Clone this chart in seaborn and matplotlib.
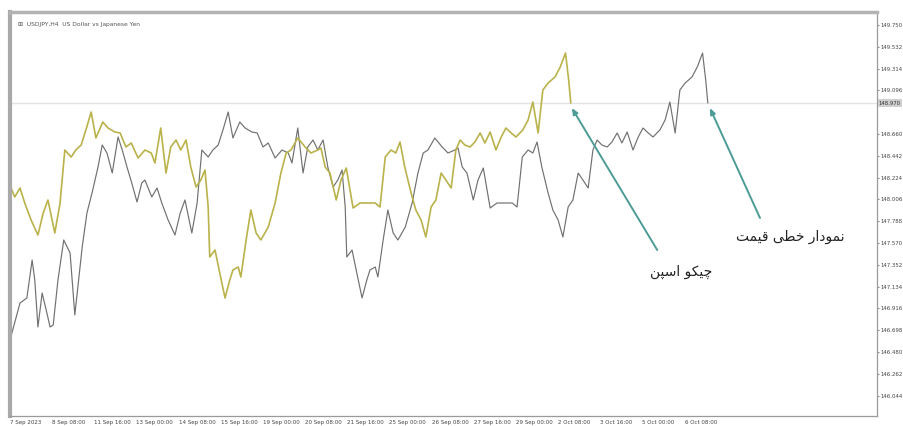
import matplotlib
matplotlib.use("Agg")
import matplotlib.pyplot as plt
import seaborn as sns
import pandas as pd

# ---------------------------
# DATA
# ---------------------------
# position of each vertex in H4 bars from the left edge, and the close there
bars = [0.0, 1.9, 3.2, 4.2, 4.7, 5.3, 6.1, 7.0, 7.6, 8.2, 9.1, 10.2, 11.4, 12.3,
        13.7, 14.6, 15.7, 16.7, 17.5, 18.4, 19.4, 20.5, 21.3, 22.2, 23.1, 24.1,
        25.0, 25.6, 26.9, 27.9, 28.8, 30.0, 31.3, 32.3, 33.2, 34.5, 35.5, 36.4,
        37.6, 38.5, 39.5, 40.4, 41.4, 42.3, 43.6, 44.6, 45.9, 46.9, 48.0, 49.0,
        50.3, 51.6, 52.8, 53.5, 54.6, 55.6, 56.5, 57.5, 58.4, 59.4, 60.3, 61.3,
        62.2, 63.0, 63.6, 63.9, 64.9, 65.8, 66.8, 67.7, 68.3, 69.3, 69.8, 70.8,
        71.7, 72.7, 73.6, 75.0, 76.3, 77.4, 78.4, 79.3, 80.6, 82.0, 83.1, 84.4,
        85.0, 85.8, 86.7, 87.9, 88.8, 89.8, 91.1, 92.4, 93.9, 95.3, 96.2, 97.2,
        98.3, 99.2, 100.0, 100.9, 102.1, 103.0, 104.0, 104.9, 105.9, 106.8,
        107.8, 108.7, 109.7, 110.6, 111.4, 112.3, 113.3, 114.2, 115.2, 116.1,
        117.1, 118.2, 119.2, 120.1, 121.1, 122.0, 123.3, 124.3, 125.2, 126.2,
        127.1, 128.1, 129.4, 130.4, 131.4, 132.0, 132.4]
close = [146.60, 146.97, 147.02, 147.40, 147.20, 146.73, 147.07, 146.87, 146.73,
         146.75, 147.20, 147.60, 147.47, 146.85, 147.53, 147.87, 148.10, 148.33,
         148.55, 148.47, 148.27, 148.63, 148.50, 148.33, 148.17, 147.98, 148.17,
         148.20, 148.03, 148.12, 147.97, 147.80, 147.65, 147.87, 148.00, 147.67,
         147.97, 148.50, 148.43, 148.50, 148.55, 148.70, 148.88, 148.62, 148.78,
         148.72, 148.68, 148.67, 148.53, 148.57, 148.42, 148.50, 148.47, 148.37,
         148.72, 148.27, 148.53, 148.60, 148.50, 148.60, 148.33, 148.13, 148.20,
         148.30, 147.93, 147.43, 147.50, 147.27, 147.02, 147.20, 147.30, 147.33,
         147.23, 147.60, 147.90, 147.67, 147.60, 147.73, 147.97, 148.27, 148.47,
         148.50, 148.62, 148.53, 148.47, 148.50, 148.52, 148.33, 148.27, 148.00,
         148.20, 148.32, 147.92, 147.97, 147.97, 147.97, 147.93, 148.43, 148.50,
         148.47, 148.58, 148.33, 148.07, 147.90, 147.80, 147.63, 147.93, 148.00,
         148.27, 148.20, 148.12, 148.50, 148.60, 148.55, 148.53, 148.58, 148.67,
         148.57, 148.68, 148.50, 148.63, 148.72, 148.67, 148.63, 148.70, 148.80,
         148.98, 148.67, 149.10, 149.17, 149.23, 149.33, 149.47, 149.20, 148.97]

chikou_shift = 26        # chikou span = close drawn 26 bars back
bid_price = 148.97

x_tick_bars = [0, 8, 16, 24, 32, 40, 48, 56, 64, 72, 80, 88, 96, 104, 112, 120, 128]
x_tick_labels = ["7 Sep 2023", "8 Sep 08:00", "11 Sep 16:00", "13 Sep 00:00",
                 "14 Sep 08:00", "15 Sep 16:00", "19 Sep 00:00", "20 Sep 08:00",
                 "21 Sep 16:00", "25 Sep 00:00", "26 Sep 08:00", "27 Sep 16:00",
                 "29 Sep 00:00", "2 Oct 08:00", "3 Oct 16:00", "5 Oct 00:00",
                 "6 Oct 08:00"]
y_tick_values = [149.750, 149.532, 149.314, 149.096, 148.660, 148.442, 148.224,
                 148.006, 147.788, 147.570, 147.352, 147.134, 146.916, 146.698,
                 146.480, 146.262, 146.044]

# Persian labels, written with Arabic presentation forms in visual order
# "چیکو اسپن"
chikou_text = "\ufee6\ufb59\ufeb3\ufe8d \ufeee\ufb91\ufbff\ufb7c"
# "نمودار خطی قیمت"
price_text = ("\ufe96\ufee4\ufbff\ufed7 \ufbfd\ufec4\ufea7 "
              "\ufead\ufe8d\ufea9\ufeee\ufee4\ufee7")

# ---------------------------
# PLOT
# ---------------------------
sns.set_style("white")
plt.rcParams["font.family"] = ["DejaVu Sans"]

df = pd.DataFrame({"bar": bars, "close": close})
chikou = df.assign(bar=df["bar"] - chikou_shift)

fig = plt.figure(figsize=(9.04, 4.26), dpi=100)
ax = fig.add_axes([10 / 904, 10 / 426, 867 / 904, 404 / 426])

ax.axhline(bid_price, color="#e3e3e3", lw=1.0, zorder=1)

sns.lineplot(data=df, x="bar", y="close", color="#707070", lw=0.85,
             estimator=None, sort=False, ax=ax)
sns.lineplot(data=chikou, x="bar", y="close", color="#bab24a", lw=1.2,
             estimator=None, sort=False, ax=ax)

ax.set_xlim(0, 164.5)
ax.set_ylim(145.84, 149.88)
ax.set_xlabel("")
ax.set_ylabel("")

ax.set_xticks(x_tick_bars)
ax.set_xticklabels(x_tick_labels, ha="left", fontsize=4.0, color="#444")
ax.tick_params(axis="x", length=2, pad=1, color="#888")

ax.yaxis.tick_right()
ax.set_yticks(y_tick_values)
ax.set_yticklabels([f"{v:.3f}" for v in y_tick_values], fontsize=3.9, color="#444")
ax.tick_params(axis="y", length=1.5, pad=0.8, color="#888")

for side, lw, col in [("left", 3.0, "#a9a9a9"), ("top", 2.5, "#b3b3b3"),
                      ("right", 0.9, "#9a9a9a"), ("bottom", 0.9, "#9a9a9a")]:
    ax.spines[side].set_visible(True)
    ax.spines[side].set_linewidth(lw)
    ax.spines[side].set_color(col)

# bid price box on the right scale
ax.text(1.002, bid_price, f"{bid_price:.3f}", transform=ax.get_yaxis_transform(),
        fontsize=3.9, va="center", ha="left", color="#333",
        bbox=dict(facecolor="#cfcfcf", edgecolor="none", pad=0.8))

# chart caption top-left
ax.text(0.009, 0.975, "\u229e  USDJPY,H4  US Dollar vs Japanese Yen",
        transform=ax.transAxes, fontsize=4.3, color="#555", va="top", ha="left")

# annotations
arrow = dict(arrowstyle="-|>,head_length=0.35,head_width=0.15",
             color="#4c9b96", lw=1.4, shrinkA=0, shrinkB=0)
ax.annotate("", xy=(106.6, 148.92), xytext=(122.8, 147.50), arrowprops=arrow)
ax.annotate("", xy=(132.8, 148.92), xytext=(142.3, 147.82), arrowprops=arrow)
ax.text(127.3, 147.28, chikou_text, fontsize=10, ha="center", va="center",
        color="#222")
ax.text(148.0, 147.63, price_text, fontsize=10, ha="center", va="center",
        color="#222")

fig.savefig("out.png", dpi=100)
